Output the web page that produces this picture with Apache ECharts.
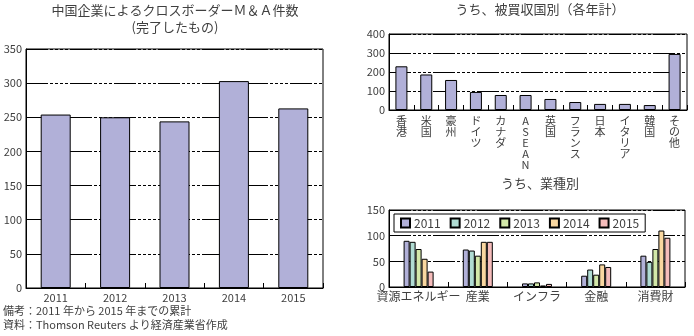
<!DOCTYPE html>
<html><head><meta charset="utf-8">
<script src="https://cdn.jsdelivr.net/npm/echarts@6/dist/echarts.min.js"></script>
<style>html,body{margin:0;padding:0;background:#fff}#c{width:694px;height:336px}</style>
</head><body><div id="c"></div>
<script>
const years = ['2011','2012','2013','2014','2015'];
const totalCounts = [254, 250, 244, 303, 263];

const countries = ['香港','米国','豪州','ドイツ','カナダ','ASEAN','英国','フランス','日本','イタリア','韓国','その他'];
const countryCounts = [230, 187, 158, 95, 79, 79, 58, 42, 32, 32, 26, 295];

const sectors = ['資源エネルギー','産業','インフラ','金融','消費財'];
const sector2011 = [90, 73, 7, 22, 61];
const sector2012 = [88, 71, 7, 34, 49];
const sector2013 = [74, 61, 9, 24, 74];
const sector2014 = [55, 88, 3, 44, 110];
const sector2015 = [30, 88, 6, 39, 96];
const sectorSeries = [sector2011, sector2012, sector2013, sector2014, sector2015];

const yearColors = ['#b1b0d8', '#b0dcd3', '#d3e8a9', '#f9d7a0', '#f5bcbb'];
const barColor = '#b1b0d8';
const txt = '#404040';
const FONT = '"Noto Sans CJK JP", sans-serif';
const dash = [22, 2, 3, 2, 3, 2, 3, 2, 3, 2];

const chart = echarts.init(document.getElementById('c'));

function yAxisCfg(idx, max, interval) {
  return {
    type: 'value', gridIndex: idx, min: 0, max: max, interval: interval,
    axisLine: {show: true, lineStyle: {color: '#000', width: 1}},
    axisTick: {show: false},
    axisLabel: {color: txt, fontSize: 11, fontFamily: FONT, margin: 4},
    splitLine: {show: true, lineStyle: {color: '#000', width: 1, type: dash}}
  };
}

const sectorBars = sectorSeries.map((d, i) => ({
  type: 'bar', name: years[i], xAxisIndex: 2, yAxisIndex: 2, data: d,
  barWidth: 6, barGap: '0%',
  itemStyle: {color: yearColors[i], borderColor: '#000', borderWidth: 1}
}));

chart.setOption({
  animation: false,
  textStyle: {fontFamily: FONT},
  title: [
    {text: '中国企業によるクロスボーダーＭ＆Ａ件数\n(完了したもの)', left: 175, top: 2, padding: 0, textAlign: 'center',
     textStyle: {fontSize: 13, fontWeight: 'normal', color: txt, fontFamily: FONT, lineHeight: 17}},
    {text: 'うち、被買収国別（各年計）', left: 540, top: 3, padding: 0, textAlign: 'center',
     textStyle: {fontSize: 13, fontWeight: 'normal', color: txt, fontFamily: FONT}},
    {text: 'うち、業種別', left: 540, top: 177, padding: 0, textAlign: 'center',
     textStyle: {fontSize: 13, fontWeight: 'normal', color: txt, fontFamily: FONT}}
  ],
  legend: {
    data: years, left: 394, top: 214, orient: 'horizontal',
    itemWidth: 9, itemHeight: 9, itemGap: 9,
    padding: [3, 6, 3, 6],
    borderColor: '#000', borderWidth: 1,
    textStyle: {color: txt, fontSize: 12, fontFamily: FONT, padding: [0, 0, 0, -1]},
    icon: 'rect'
  },
  grid: [
    {left: 26, top: 49, width: 297, height: 239, show: true, borderColor: '#000', borderWidth: 1},
    {left: 389, top: 34, width: 298, height: 76, show: true, borderColor: '#000', borderWidth: 1},
    {left: 389, top: 210, width: 296, height: 77, show: true, borderColor: '#000', borderWidth: 1}
  ],
  xAxis: [
    {type: 'category', gridIndex: 0, data: years,
     axisLine: {lineStyle: {color: '#000'}},
     axisTick: {show: true, inside: true, length: 5, lineStyle: {color: '#000'}},
     axisLabel: {color: txt, fontSize: 11, fontFamily: FONT, margin: 4}},
    {type: 'category', gridIndex: 1, data: countries,
     axisLine: {lineStyle: {color: '#000'}},
     axisTick: {show: true, inside: true, length: 5, lineStyle: {color: '#000'}},
     axisLabel: {color: txt, fontSize: 11, fontFamily: FONT, margin: 5, lineHeight: 11,
                 interval: 0, verticalAlign: 'top',
                 formatter: v => v.split('').join('\n')}},
    {type: 'category', gridIndex: 2, data: sectors,
     axisLine: {lineStyle: {color: '#000'}},
     axisTick: {show: true, inside: true, length: 5, lineStyle: {color: '#000'}},
     axisLabel: {color: txt, fontSize: 12, fontFamily: FONT, margin: 3, interval: 0}}
  ],
  yAxis: [yAxisCfg(0, 350, 50), yAxisCfg(1, 400, 100), yAxisCfg(2, 150, 50)],
  series: [
    {type: 'bar', xAxisIndex: 0, yAxisIndex: 0, data: totalCounts, barWidth: 30,
     itemStyle: {color: barColor, borderColor: '#000', borderWidth: 1}},
    {type: 'bar', xAxisIndex: 1, yAxisIndex: 1, data: countryCounts, barWidth: 12,
     itemStyle: {color: barColor, borderColor: '#000', borderWidth: 1}}
  ].concat(sectorBars),
  graphic: [
    {type: 'text', left: 3, top: 305, style: {text: '備考：2011 年から 2015 年までの累計', fontSize: 11, fill: txt, fontFamily: FONT}},
    {type: 'text', left: 3, top: 319, style: {text: '資料：Thomson Reuters より経済産業省作成', fontSize: 11, fill: txt, fontFamily: FONT}}
  ]
});
</script></body></html>
